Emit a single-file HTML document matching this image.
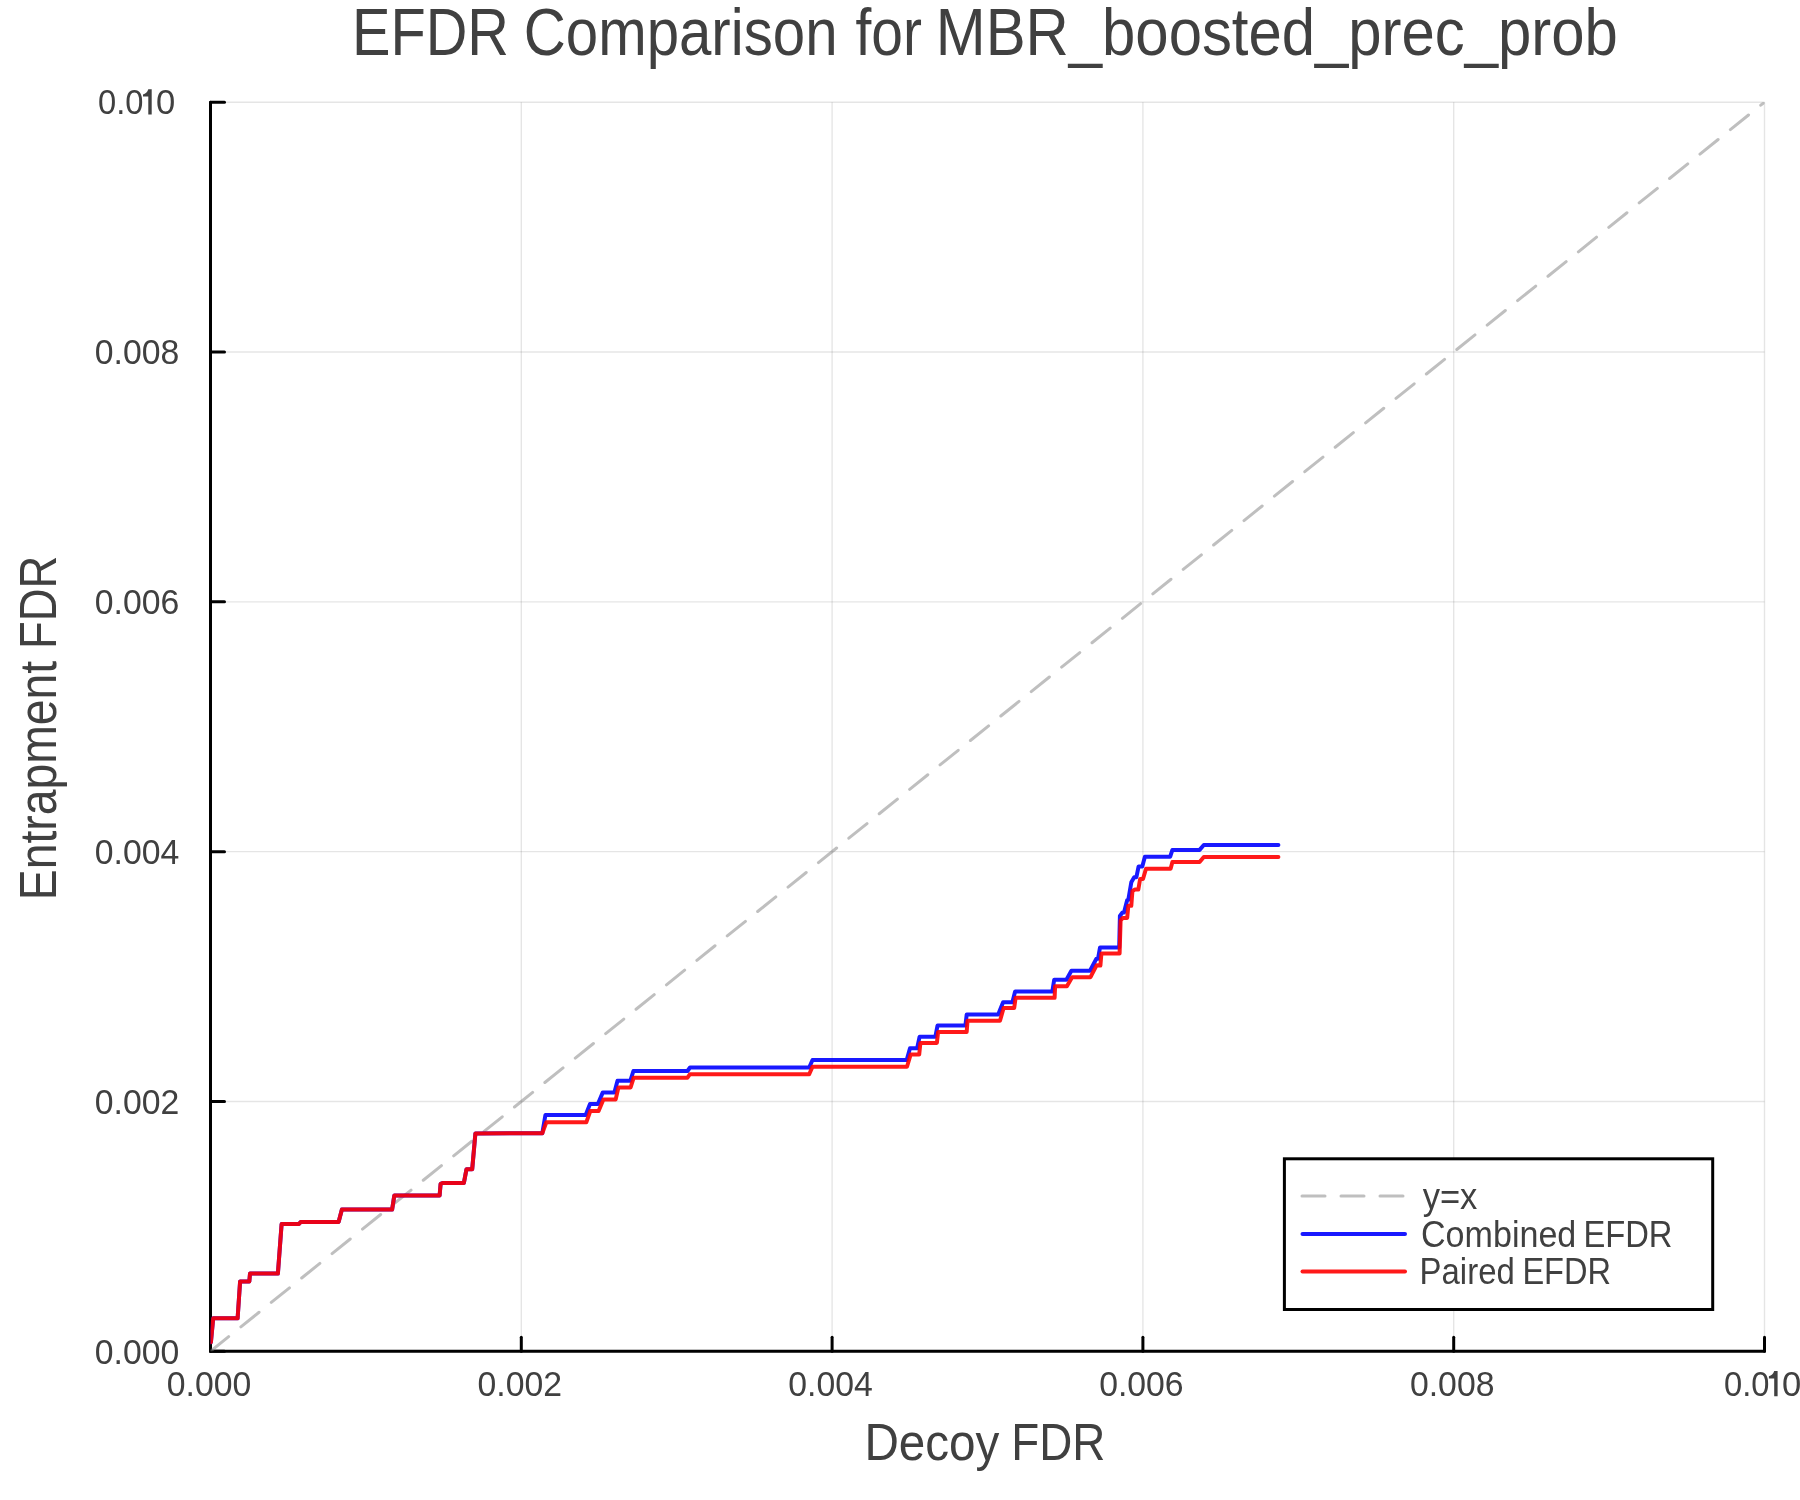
<!DOCTYPE html>
<html><head><meta charset="utf-8"><title>EFDR Comparison</title>
<style>html,body{margin:0;padding:0;background:#fff;} svg{display:block;} text{font-family:'Liberation Sans', sans-serif;fill:#404040;} g.t{filter:grayscale(1);}</style>
</head><body>
<svg width="1800" height="1500" viewBox="0 0 1800 1500">
<rect x="0" y="0" width="1800" height="1500" fill="#fff"/>
<defs><clipPath id="pa"><rect x="210.5" y="102.2" width="1554" height="1249.1"/></clipPath></defs>
<g stroke="#000" stroke-opacity="0.1" stroke-width="1.4"><line x1="210.50" y1="102.20" x2="210.50" y2="1351.30"/><line x1="210.50" y1="1351.30" x2="1764.50" y2="1351.30"/><line x1="521.30" y1="102.20" x2="521.30" y2="1351.30"/><line x1="210.50" y1="1101.48" x2="1764.50" y2="1101.48"/><line x1="832.10" y1="102.20" x2="832.10" y2="1351.30"/><line x1="210.50" y1="851.66" x2="1764.50" y2="851.66"/><line x1="1142.90" y1="102.20" x2="1142.90" y2="1351.30"/><line x1="210.50" y1="601.84" x2="1764.50" y2="601.84"/><line x1="1453.70" y1="102.20" x2="1453.70" y2="1351.30"/><line x1="210.50" y1="352.02" x2="1764.50" y2="352.02"/><line x1="1764.50" y1="102.20" x2="1764.50" y2="1351.30"/><line x1="210.50" y1="102.20" x2="1764.50" y2="102.20"/></g>
<g stroke="#000" stroke-width="3" stroke-linecap="round" stroke-linejoin="round"><path d="M210.5,102.2 L210.5,1351.3 L1764.5,1351.3" fill="none"/><line x1="210.50" y1="1351.3" x2="210.50" y2="1337.30"/><line x1="210.5" y1="1351.30" x2="224.50" y2="1351.30"/><line x1="521.30" y1="1351.3" x2="521.30" y2="1337.30"/><line x1="210.5" y1="1101.48" x2="224.50" y2="1101.48"/><line x1="832.10" y1="1351.3" x2="832.10" y2="1337.30"/><line x1="210.5" y1="851.66" x2="224.50" y2="851.66"/><line x1="1142.90" y1="1351.3" x2="1142.90" y2="1337.30"/><line x1="210.5" y1="601.84" x2="224.50" y2="601.84"/><line x1="1453.70" y1="1351.3" x2="1453.70" y2="1337.30"/><line x1="210.5" y1="352.02" x2="224.50" y2="352.02"/><line x1="1764.50" y1="1351.3" x2="1764.50" y2="1337.30"/><line x1="210.5" y1="102.20" x2="224.50" y2="102.20"/></g>
<g clip-path="url(#pa)"><line x1="210.5" y1="1351.3" x2="1764.5" y2="102.2" stroke="#808080" stroke-opacity="0.5" stroke-width="3" stroke-dasharray="23.3 15.7" stroke-linecap="round"/>
<path d="M210.9,1342.3 L213.2,1318.3 L237.6,1318.3 L240.1,1281.5 L249.3,1281.5 L250.0,1273.6 L277.9,1273.5 L281.6,1224.1 L298.9,1224.1 L300.7,1221.9 L338.6,1221.9 L341.9,1209.6 L392.1,1209.6 L394.3,1195.6 L439.6,1195.6 L440.6,1183.9 L443.1,1182.9 L463.9,1182.9 L466.5,1169.2 L472.2,1169.2 L475.4,1133.4 L542.3,1133.3 L545.4,1115.0 L585.7,1115.0 L590.0,1104.0 L597.9,1104.0 L602.8,1092.4 L614.4,1092.4 L617.5,1080.8 L630.3,1080.8 L633.4,1071.0 L687.5,1071.0 L690.0,1067.5 L809.2,1067.5 L812.5,1060.0 L906.7,1060.0 L910.0,1048.3 L917.1,1048.3 L919.6,1036.7 L935.4,1036.7 L937.5,1025.6 L965.4,1025.6 L966.7,1014.6 L998.2,1014.6 L1003.1,1002.2 L1012.4,1002.2 L1015.1,991.6 L1052.3,991.6 L1054.2,979.8 L1066.4,979.8 L1071.4,970.8 L1090.0,970.8 L1096.4,958.8 L1098.0,958.8 L1100.0,947.5 L1119.2,947.5 L1119.9,916.0 L1122.5,912.4 L1124.0,912.4 L1127.2,899.9 L1128.3,899.9 L1131.3,882.3 L1134.2,877.2 L1136.4,877.2 L1138.6,866.5 L1142.3,866.5 L1144.9,856.7 L1170.2,856.7 L1172.4,849.9 L1199.6,849.9 L1203.8,845.0 L1278.4,845.0" fill="none" stroke="#0000ff" stroke-opacity="0.9" stroke-width="4" stroke-linejoin="round" stroke-linecap="round"/>
<path d="M210.9,1342.3 L213.2,1318.3 L237.6,1318.3 L240.1,1281.5 L249.3,1281.5 L250.0,1273.6 L277.9,1273.5 L281.6,1224.1 L298.9,1224.1 L300.7,1221.9 L338.6,1221.9 L341.9,1209.6 L392.1,1209.6 L394.3,1195.6 L439.6,1195.6 L440.6,1183.9 L443.1,1182.9 L463.9,1182.9 L466.5,1169.2 L472.2,1169.2 L475.4,1133.4 L542.3,1133.3 L546.3,1122.3 L586.3,1122.3 L590.3,1111.0 L598.6,1111.0 L603.4,1099.4 L615.7,1099.4 L618.4,1087.5 L630.6,1087.5 L633.7,1077.7 L687.5,1077.7 L690.0,1074.2 L809.2,1074.2 L812.5,1066.7 L907.0,1066.7 L910.6,1054.6 L919.2,1054.6 L920.4,1042.9 L936.9,1042.9 L938.1,1031.9 L966.7,1031.9 L967.5,1020.8 L1000.0,1020.8 L1003.6,1008.0 L1014.2,1008.0 L1015.6,997.8 L1054.6,997.8 L1055.1,986.2 L1066.9,986.2 L1072.1,977.2 L1090.5,977.2 L1096.7,965.2 L1100.4,965.5 L1101.4,953.4 L1119.6,953.4 L1120.6,920.5 L1122.8,917.9 L1127.2,917.9 L1128.3,905.8 L1131.3,905.8 L1132.4,891.1 L1135.0,889.6 L1138.3,889.6 L1140.1,879.0 L1143.0,879.0 L1146.0,868.7 L1170.6,868.7 L1172.4,862.0 L1199.6,862.0 L1203.8,856.9 L1278.4,856.9" fill="none" stroke="#ff0000" stroke-opacity="0.9" stroke-width="4" stroke-linejoin="round" stroke-linecap="round"/>
</g>
<rect x="1284.4" y="1158.8" width="428.3" height="150.7" fill="#fff" stroke="#000" stroke-width="3"/>
<line x1="1302" y1="1196.1" x2="1405" y2="1196.1" stroke="#808080" stroke-opacity="0.5" stroke-width="3" stroke-dasharray="23 16" stroke-linecap="round"/>
<line x1="1302.5" y1="1233.9" x2="1405" y2="1233.9" stroke="#0000ff" stroke-opacity="0.9" stroke-width="4" stroke-linecap="round"/>
<line x1="1302.5" y1="1271.5" x2="1405" y2="1271.5" stroke="#ff0000" stroke-opacity="0.9" stroke-width="4" stroke-linecap="round"/>
<g class="t"><g font-size="34.6"><text x="137.1" y="1363.5" text-anchor="middle" textLength="84.5" lengthAdjust="spacingAndGlyphs">0.000</text><text x="209.0" y="1396.3" text-anchor="middle" textLength="84.5" lengthAdjust="spacingAndGlyphs">0.000</text><text x="137.1" y="1113.7" text-anchor="middle" textLength="84.5" lengthAdjust="spacingAndGlyphs">0.002</text><text x="519.8" y="1396.3" text-anchor="middle" textLength="84.5" lengthAdjust="spacingAndGlyphs">0.002</text><text x="137.1" y="863.9" text-anchor="middle" textLength="84.5" lengthAdjust="spacingAndGlyphs">0.004</text><text x="830.6" y="1396.3" text-anchor="middle" textLength="84.5" lengthAdjust="spacingAndGlyphs">0.004</text><text x="137.1" y="614.0" text-anchor="middle" textLength="84.5" lengthAdjust="spacingAndGlyphs">0.006</text><text x="1141.4" y="1396.3" text-anchor="middle" textLength="84.5" lengthAdjust="spacingAndGlyphs">0.006</text><text x="137.1" y="364.2" text-anchor="middle" textLength="84.5" lengthAdjust="spacingAndGlyphs">0.008</text><text x="1452.2" y="1396.3" text-anchor="middle" textLength="84.5" lengthAdjust="spacingAndGlyphs">0.008</text><text x="98.09" y="114.4" textLength="45.45" lengthAdjust="spacingAndGlyphs">0.0</text><text x="156.12" y="114.4">0</text><path fill="#404040" d="M143.00,94.40 C145.40,93.80 147.40,92.20 148.30,89.20 L151.70,89.20 L151.70,114.40 L148.30,114.40 L148.30,96.60 L143.00,96.60 Z"/><text x="1723.99" y="1396.3" textLength="45.45" lengthAdjust="spacingAndGlyphs">0.0</text><text x="1782.02" y="1396.3">0</text><path fill="#404040" d="M1768.90,1376.30 C1771.30,1375.70 1773.30,1374.10 1774.20,1371.10 L1777.60,1371.10 L1777.60,1396.30 L1774.20,1396.30 L1774.20,1378.50 L1768.90,1378.50 Z"/></g>
<g font-size="66.5"><text x="352.1" y="54.9" textLength="156.9" lengthAdjust="spacingAndGlyphs">EFDR</text><text x="523.8" y="54.9" textLength="313.7" lengthAdjust="spacingAndGlyphs">Comparison</text><text x="855.5" y="54.9" textLength="66.5" lengthAdjust="spacingAndGlyphs">for</text><text x="935.8" y="54.9" textLength="682.0" lengthAdjust="spacingAndGlyphs">MBR_boosted_prec_prob</text></g>
<g font-size="51.7"><text x="864.4" y="1459.8" textLength="135" lengthAdjust="spacingAndGlyphs">Decoy</text><text x="1011.3" y="1459.8" textLength="94.1" lengthAdjust="spacingAndGlyphs">FDR</text></g>
<g font-size="52.2" transform="translate(56,0) rotate(-90)"><text x="-900.2" y="0" textLength="239.4" lengthAdjust="spacingAndGlyphs">Entrapment</text><text x="-648.9" y="0" textLength="93.3" lengthAdjust="spacingAndGlyphs">FDR</text></g>
<g font-size="37.1"><text x="1422.7" y="1209" textLength="54.7" lengthAdjust="spacingAndGlyphs">y=x</text><text x="1421.0" y="1246.9" textLength="155.3" lengthAdjust="spacingAndGlyphs">Combined</text><text x="1583.4" y="1246.9" textLength="89.1" lengthAdjust="spacingAndGlyphs">EFDR</text><text x="1419.6" y="1283.9" textLength="95.2" lengthAdjust="spacingAndGlyphs">Paired</text><text x="1522.4" y="1283.9" textLength="88.6" lengthAdjust="spacingAndGlyphs">EFDR</text></g>
</g>
</svg>
</body></html>
